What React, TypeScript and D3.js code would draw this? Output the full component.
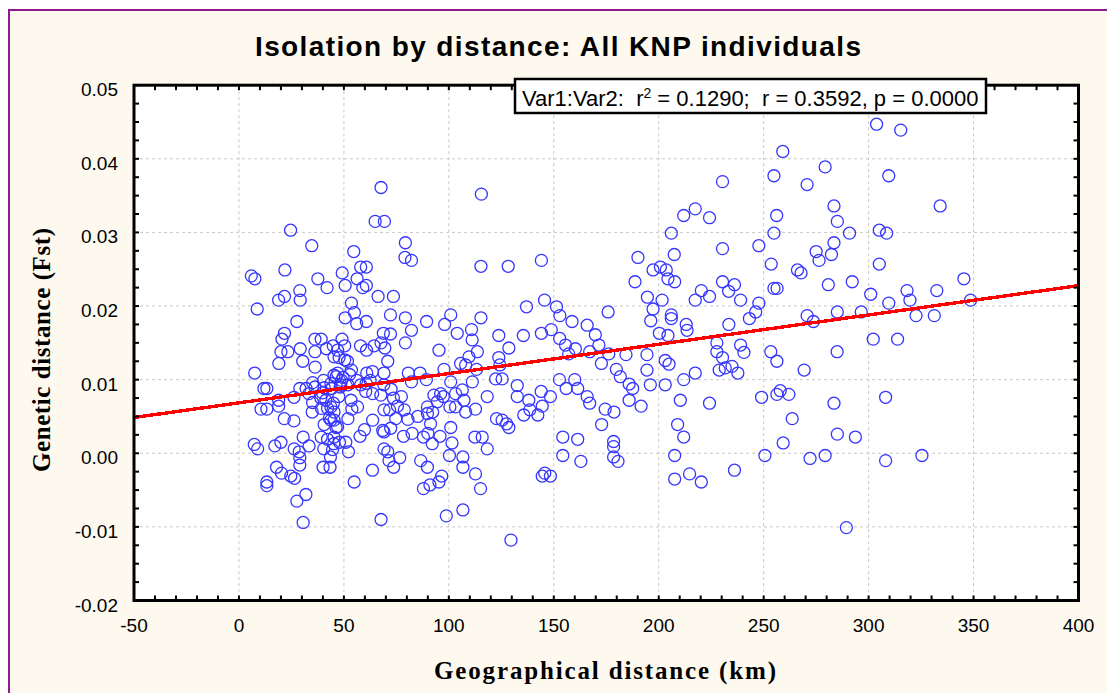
import React from 'react';
import * as d3 from 'd3';

// ---- axis tick values ----
const xTickValues = [-50, 0, 50, 100, 150, 200, 250, 300, 350, 400];
const yTickValues = [-0.02, -0.01, 0.0, 0.01, 0.02, 0.03, 0.04, 0.05];

// ---- regression ----
const regressionIntercept = 0.00685;
const regressionSlope = 0.0000398;
const statsText = ['Var1:Var2:  r', '2', ' = 0.1290;  r = 0.3592, p = 0.0000'];

// ---- points [geographical distance km, genetic distance Fst] ----
const band0to50: [number, number][] = [
  [5.9, 0.0241], [7.6, 0.0237], [8.7, 0.0196], [18.9, 0.0208], [21.7, 0.0213], [21.9, 0.0249],
  [24.6, 0.0303], [27.6, 0.0179], [29, 0.0221], [29.2, 0.0208], [34.7, 0.0282], [37.6, 0.0237],
  [42, 0.0225], [49.2, 0.0245], [21.7, 0.0163], [20.5, 0.0155], [36.2, 0.0155], [39.2, 0.0155],
  [49.1, 0.0155], [44.9, 0.0146], [29.2, 0.0142], [20, 0.0138], [23.3, 0.0138], [36.2, 0.0138],
  [41.7, 0.0142], [47.7, 0.013], [30.4, 0.0125], [19, 0.0122], [36.3, 0.0117], [7.5, 0.0109],
  [11.9, 0.0088], [13.3, 0.0088], [18.9, 0.0072], [18.9, 0.0064], [10.5, 0.006], [13.3, 0.006],
  [26.2, 0.0076], [32, 0.0088], [33.3, 0.0081], [29, 0.0088], [35.1, 0.0096], [40.3, 0.0099],
  [40.6, 0.0089], [46.3, 0.0104], [48.5, 0.0093], [39, 0.0075], [45, 0.0068], [42.2, 0.0061],
  [39.3, 0.0061], [34.9, 0.0056], [21.6, 0.0047], [26.2, 0.0044], [40.6, 0.0039], [46.3, 0.0035],
  [43.1, 0.0048], [30.6, 0.0022], [33.4, 0.001], [39.2, 0.0022], [42.2, 0.0019], [47.9, 0.0015],
  [40.4, 0.0006], [44.6, 0.0005], [43.6, -0.0005], [26.3, 0.0006], [29, -0.0006], [29, -0.0016],
  [20, 0.0015], [17.1, 0.001], [7.3, 0.0012], [8.9, 0.0006], [17.9, -0.0019], [20.3, -0.0027],
  [24.7, -0.0031], [26.5, -0.0034], [40.1, -0.0019], [43.4, -0.0019], [13.3, -0.0039], [13.3, -0.0044],
  [31.9, -0.0056], [27.6, -0.0065], [30.6, -0.0094], [36.2, 0.009], [39.8, 0.0082], [44.1, 0.0088],
  [48.2, 0.009], [35.1, 0.0069], [47.6, 0.0077], [45.3, 0.0045], [45.3, 0.0106], [49.6, 0.0103],
  [41.4, 0.0072], [45.2, 0.0013], [28.7, 0.0002], [47, 0.014], [45.3, 0.0131], [47, 0.0109],
  [48.9, 0.0099], [43.8, 0.0095], [47, 0.0036], [45.3, 0.0022], [43.8, 0.0063], [45.3, 0.0056],
  [43.8, 0.0045],
];

const band50to100: [number, number][] = [
  [67.7, 0.0361], [64.9, 0.0315], [69.3, 0.0315], [79.3, 0.0286], [79.1, 0.0266], [82.2, 0.0262],
  [54.7, 0.0274], [58, 0.0253], [60.7, 0.0253], [56.3, 0.0237], [50.6, 0.0228], [59, 0.0225],
  [60.7, 0.0228], [66.3, 0.0213], [73.6, 0.0213], [53.6, 0.0204], [55, 0.0191], [50.6, 0.0184],
  [56.1, 0.0176], [60.7, 0.0179], [72.2, 0.0188], [79.3, 0.0184], [82.2, 0.0167], [89.4, 0.0179],
  [98, 0.0175], [68.8, 0.0163], [72.2, 0.0162], [67.7, 0.015], [79.3, 0.015], [57.9, 0.0146],
  [64.4, 0.0146], [60.8, 0.014], [95.3, 0.014], [51.7, 0.0125], [50.4, 0.0146], [53.6, 0.0113],
  [60.9, 0.0109], [69.1, 0.0109], [70.9, 0.0125], [80.7, 0.0109], [82.2, 0.0097], [89.3, 0.01],
  [53.8, 0.006], [51.9, 0.0047], [50.9, 0.0015], [52.2, 0.0002], [54.9, -0.0039], [63.6, -0.0023],
  [69.1, 0.0006], [70.9, 0.0002], [71.5, -0.001], [73.7, -0.0019], [76.6, -0.0006], [86.6, -0.001],
  [89.8, -0.0019], [87.9, -0.0048], [91, -0.0043], [95.3, -0.0039], [96.6, -0.0031], [67.7, -0.009],
  [98.8, -0.0085], [51.9, 0.0093], [56.1, 0.0099], [60.6, 0.0095], [63.7, 0.0081], [69, 0.0093],
  [72.5, 0.0087], [77.4, 0.0077], [75.5, 0.0064], [71.8, 0.0059], [78.8, 0.0059], [74.7, 0.0047],
  [80.5, 0.0046], [85.2, 0.005], [89.8, 0.0063], [92.9, 0.0079], [92.3, 0.0056], [97.4, 0.0077],
  [82.5, 0.0027], [78.4, 0.0023], [87.9, 0.0022], [90, 0.0027], [95.8, 0.0023], [68.5, 0.0031],
  [72.3, 0.0034], [63.7, 0.0045], [59.8, 0.0032], [57.7, 0.0023], [52.7, 0.0107], [53.4, 0.0072],
  [58, 0.0093], [56.5, 0.0063], [69.5, 0.0143], [63.6, 0.0111], [62.5, 0.0099], [60.4, 0.0084],
  [67.6, 0.0079], [73.6, 0.0075], [86.3, 0.0109], [96.1, 0.0081], [94.5, 0.007], [89.8, 0.0054],
  [69.1, 0.0059], [69.1, 0.0029], [91.3, 0.004], [92.1, 0.0013], [50.4, 0.0127], [97.7, 0.0114],
];

const band100to150: [number, number][] = [
  [115.5, 0.0352], [115.3, 0.0254], [128.3, 0.0254], [144.1, 0.0262], [100.9, 0.0188], [104, 0.0163],
  [110.8, 0.0168], [115.3, 0.0184], [123.8, 0.016], [135.5, 0.016], [137, 0.0199], [145.6, 0.0208],
  [144.1, 0.0163], [148.8, 0.0168], [111.1, 0.0154], [113.6, 0.0138], [109.6, 0.0131], [105.6, 0.0122],
  [108, 0.012], [113.2, 0.0114], [123.8, 0.013], [128.6, 0.0143], [124.3, 0.012], [100.9, 0.0097],
  [111.2, 0.0097], [122.3, 0.0101], [125.4, 0.0101], [132.6, 0.0092], [132.6, 0.0077], [138.1, 0.0072],
  [144, 0.0084], [148.4, 0.0077], [144.5, 0.0064], [138.6, 0.0059], [142.4, 0.0052], [135.7, 0.0052],
  [103.2, 0.0081], [106.4, 0.0086], [107.2, 0.0072], [103.2, 0.0063], [108, 0.0056], [112.7, 0.006],
  [118.3, 0.0077], [100.5, 0.0063], [122.7, 0.0047], [125.4, 0.0045], [127.5, 0.004], [128.6, 0.0035],
  [100.9, 0.0035], [101.5, 0.0014], [100.3, -0.0003], [106.7, -0.0005], [106.7, -0.0019], [112.4, 0.0022],
  [115.9, 0.0022], [118.3, 0.0006], [112.7, -0.0028], [115.1, -0.0048], [106.7, -0.0077], [129.6, -0.0118],
  [144.5, -0.0031], [148.4, -0.0031], [145.7, -0.0027],
];

const band150to200: [number, number][] = [
  [151.3, 0.0199], [152.9, 0.0187], [158.7, 0.0179], [165.9, 0.0174], [169.8, 0.0161], [152.8, 0.0156],
  [175.9, 0.0192], [190.1, 0.0266], [197.3, 0.0249], [188.7, 0.0233], [194.6, 0.0212], [197.3, 0.0196],
  [196.2, 0.018], [155.6, 0.0147], [160.3, 0.0142], [157.1, 0.0135], [167.1, 0.0138], [171.5, 0.0147],
  [176.2, 0.0135], [184.4, 0.0134], [194.4, 0.0134], [152.7, 0.01], [160, 0.01], [155.9, 0.0088],
  [161.4, 0.0088], [165.9, 0.0077], [167.1, 0.0068], [172.7, 0.0122], [179.8, 0.0114], [181.7, 0.0104],
  [185.9, 0.0094], [187.6, 0.0088], [185.9, 0.0072], [191.6, 0.0064], [174.5, 0.006], [178.7, 0.0056],
  [172.8, 0.0039], [194.4, 0.0113], [196, 0.0093], [178.5, 0.0016], [178.5, 0.0009], [178.5, -0.0005],
  [180.6, -0.0011], [154.3, 0.0022], [161.4, 0.0019], [154.3, -0.0003], [162.9, -0.0011],
];

const band200to250: [number, number][] = [
  [211.9, 0.0323], [217.4, 0.0332], [224.2, 0.032], [206, 0.0299], [207.4, 0.027], [200.8, 0.0253],
  [203.6, 0.0249], [204.4, 0.0237], [207.6, 0.0233], [201.6, 0.0208], [206, 0.0188], [206, 0.0183],
  [213.1, 0.0175], [200.3, 0.0163], [204.4, 0.016], [220.3, 0.0221], [217.4, 0.0208], [224.2, 0.0213],
  [213.5, 0.0167], [203.1, 0.0093], [203.1, 0.0126], [204.9, 0.0121], [211.9, 0.01], [217.4, 0.0109],
  [210.3, 0.0072], [224.2, 0.0068], [209, 0.0039], [211.9, 0.0022], [207.6, -0.0003], [207.6, -0.0035],
  [214.7, -0.0028], [220.3, -0.0039], [230.4, 0.0369], [230.4, 0.0278], [247.7, 0.0282], [230.4, 0.0233],
  [233.3, 0.022], [236.1, 0.0229], [239, 0.0208], [247.7, 0.0204], [246.2, 0.0192], [243.2, 0.0183],
  [233.4, 0.0175], [227.7, 0.015], [227.7, 0.0138], [230.4, 0.013], [228.8, 0.0113], [231.7, 0.0116],
  [234.9, 0.0118], [237.7, 0.0109], [239, 0.0147], [240.6, 0.0137], [249, 0.0076], [236.1, -0.0023],
];

const band250to350: [number, number][] = [
  [303.8, 0.0447], [315.3, 0.0439], [259.1, 0.041], [279.3, 0.0389], [254.9, 0.0377], [270.7, 0.0365],
  [309.6, 0.0377], [283.5, 0.0336], [285.1, 0.0315], [334.1, 0.0336], [256.2, 0.0323], [254.9, 0.0299],
  [290.9, 0.0299], [305.1, 0.0303], [308.6, 0.0299], [283.5, 0.0286], [275, 0.0274], [276.4, 0.0262],
  [282.3, 0.027], [253.6, 0.0257], [266.1, 0.0249], [267.8, 0.0245], [305.1, 0.0257], [254.9, 0.0224],
  [256.4, 0.0224], [280.8, 0.0229], [292.2, 0.0233], [301, 0.0216], [309.6, 0.0204], [318.3, 0.0221],
  [319.7, 0.0208], [332.5, 0.0221], [345.4, 0.0237], [348.6, 0.0208], [322.6, 0.0187], [331.3, 0.0187],
  [285.1, 0.0192], [296.5, 0.0192], [270.7, 0.0187], [273.7, 0.0179], [302.2, 0.0155], [313.8, 0.0155],
  [253.4, 0.0138], [256.3, 0.0125], [269.3, 0.0113], [285, 0.0138], [256.3, 0.008], [257.9, 0.0085],
  [262, 0.008], [263.6, 0.0047], [259.3, 0.0014], [250.6, -0.0003], [272.1, -0.0007], [279.3, -0.0003],
  [283.5, 0.0068], [285.1, 0.0026], [293.7, 0.0022], [308.1, 0.0076], [308.1, -0.001], [325.4, -0.0003],
  [289.4, -0.0101],
];

const allPoints = [
  ...band0to50, ...band50to100, ...band100to150, ...band150to200, ...band200to250, ...band250to350,
];

const SANS = '"Liberation Sans", Arial, sans-serif';
const SERIF = '"Liberation Serif", "Times New Roman", serif';

export default function App() {
  const x = d3.scaleLinear().domain([-50, 400]).range([134, 1078.5]);
  const y = d3.scaleLinear().domain([-0.02, 0.05]).range([600.5, 85.2]);
  const [x0, x1] = x.range();
  const [y0, y1] = y.range();

  const minorX = d3.range(-50, 400.001, 10);
  const minorY = d3.range(-0.02, 0.05001, 0.0025);
  const tickLen = 5;

  const lineGen = d3
    .line<number>()
    .x((d) => x(d))
    .y((d) => y(regressionIntercept + regressionSlope * d));

  const fmtY = (v: number) => (Math.abs(v) < 1e-9 ? '0.00' : v.toFixed(2));

  return (
    <svg
      width={1107}
      height={693}
      style={{ position: 'absolute', left: 0, top: 0, display: 'block' }}
    >
      <rect x={0} y={0} width={1107} height={693} fill="#ffffff" />
      <rect x={9} y={10} width={1120} height={700} fill="#fdf9ef" stroke="#8e1c8e" strokeWidth={2} />

      {/* title */}
      <text
        x={558}
        y={56}
        textAnchor="middle"
        fontFamily={SANS}
        fontWeight="bold"
        fontSize={28}
        fill="#000"
        textLength={606}
        lengthAdjust="spacing"
      >
        Isolation by distance: All KNP individuals
      </text>

      {/* plot area */}
      <rect x={x0} y={y1} width={x1 - x0} height={y0 - y1} fill="#ffffff" />

      {/* grid */}
      {xTickValues.slice(1, -1).map((v) => (
        <line key={'gx' + v} x1={x(v)} x2={x(v)} y1={y1} y2={y0} stroke="#c8c8c8" strokeWidth={1} strokeDasharray="3,3" />
      ))}
      {yTickValues.slice(1, -1).map((v) => (
        <line key={'gy' + v} x1={x0} x2={x1} y1={y(v)} y2={y(v)} stroke="#c8c8c8" strokeWidth={1} strokeDasharray="3,3" />
      ))}

      {/* points */}
      {allPoints.map(([gx, gy], i) => (
        <circle key={'p' + i} cx={x(gx)} cy={y(gy)} r={6} fill="none" stroke="#3535ff" strokeWidth={1.3} />
      ))}

      {/* regression line */}
      <path d={lineGen([-50, 400]) || ''} fill="none" stroke="#ff0000" strokeWidth={3.4} shapeRendering="crispEdges" />

      {/* frame */}
      <rect x={x0} y={y1} width={x1 - x0} height={y0 - y1} fill="none" stroke="#000" strokeWidth={3} />

      {/* minor ticks */}
      {minorX.map((v) => (
        <g key={'tx' + v}>
          <line x1={x(v)} x2={x(v)} y1={y0} y2={y0 - tickLen} stroke="#000" strokeWidth={2} />
          <line x1={x(v)} x2={x(v)} y1={y1} y2={y1 + tickLen} stroke="#000" strokeWidth={2} />
        </g>
      ))}
      {minorY.map((v, i) => (
        <g key={'ty' + i}>
          <line x1={x0} x2={x0 + tickLen} y1={y(v)} y2={y(v)} stroke="#000" strokeWidth={2} />
          <line x1={x1} x2={x1 - tickLen} y1={y(v)} y2={y(v)} stroke="#000" strokeWidth={2} />
        </g>
      ))}

      {/* tick labels */}
      {xTickValues.map((v) => (
        <text key={'lx' + v} x={x(v)} y={632} textAnchor="middle" fontFamily={SANS} fontSize={19} fill="#000">
          {String(v)}
        </text>
      ))}
      {yTickValues.map((v) => (
        <text key={'ly' + v} x={118} y={y(v) + 11} textAnchor="end" fontFamily={SANS} fontSize={19} fill="#000">
          {fmtY(v)}
        </text>
      ))}

      {/* axis titles */}
      <text
        x={605}
        y={679}
        textAnchor="middle"
        fontFamily={SERIF}
        fontWeight="bold"
        fontSize={25}
        fill="#000"
        textLength={342}
        lengthAdjust="spacing"
      >
        Geographical distance (km)
      </text>
      <text
        transform={`translate(50, 350) rotate(-90)`}
        textAnchor="middle"
        fontFamily={SERIF}
        fontWeight="bold"
        fontSize={25}
        fill="#000"
        textLength={244}
        lengthAdjust="spacing"
      >
        Genetic distance (Fst)
      </text>

      {/* stats box */}
      <rect x={515} y={79} width={471} height={34} fill="#ffffff" stroke="#000" strokeWidth={2.5} />
      <text x={522} y={106} fontFamily={SANS} fontSize={22} fill="#000" style={{ whiteSpace: 'pre' }}>
        {statsText[0]}
        <tspan dy={-8} fontSize={14}>{statsText[1]}</tspan>
        <tspan dy={8}>{statsText[2]}</tspan>
      </text>
    </svg>
  );
}
